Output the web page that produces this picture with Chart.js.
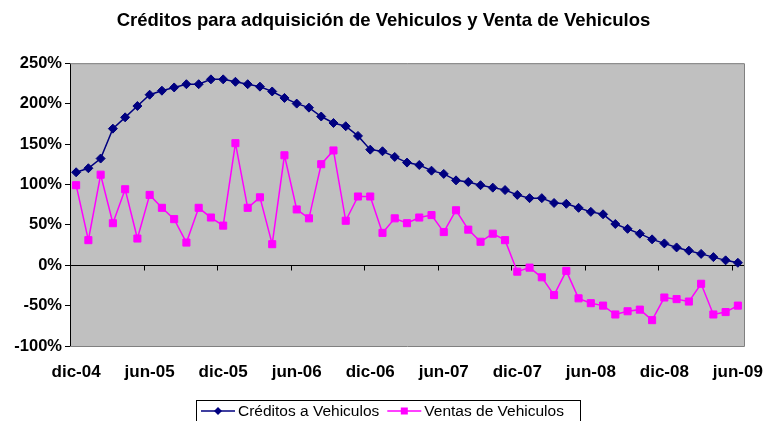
<!DOCTYPE html>
<html lang="es">
<head>
<meta charset="UTF-8">
<title>Créditos y Venta de Vehiculos</title>
<script src="https://cdn.jsdelivr.net/npm/chart.js@4.4.0/dist/chart.umd.min.js"></script>
<style>
  html, body { margin: 0; padding: 0; background: #fff; }
  #wrap { width: 767px; height: 421px; }
</style>
</head>
<body>
<div id="wrap"><canvas id="chart" width="767" height="421"></canvas></div>
<script>
const months = [
  'dic-04',
  'ene-05','feb-05','mar-05','abr-05','may-05','jun-05','jul-05','ago-05','sep-05','oct-05','nov-05','dic-05',
  'ene-06','feb-06','mar-06','abr-06','may-06','jun-06','jul-06','ago-06','sep-06','oct-06','nov-06','dic-06',
  'ene-07','feb-07','mar-07','abr-07','may-07','jun-07','jul-07','ago-07','sep-07','oct-07','nov-07','dic-07',
  'ene-08','feb-08','mar-08','abr-08','may-08','jun-08','jul-08','ago-08','sep-08','oct-08','nov-08','dic-08',
  'ene-09','feb-09','mar-09','abr-09','may-09','jun-09'
];

// variacion anual, en %
const creditos = [
  115, 120, 132, 169, 183, 197, 211, 216, 220, 224, 224, 230, 230,
  227, 224, 221, 215, 207, 200, 195, 184, 176, 172, 160, 143,
  141, 134, 127, 124, 117, 113, 105, 103, 99, 96, 93, 87,
  83, 83, 77, 76, 71, 66, 63, 51, 45, 39, 32, 27,
  22, 18, 14, 10, 6, 3
];

const ventas = [
  99, 31, 112, 52, 94, 33, 87, 71, 57, 28, 71, 59, 49,
  151, 71, 84, 26, 136, 69, 58, 125, 142, 55, 85, 85,
  40, 58, 52, 59, 62, 41, 68, 44, 29, 39, 31, -8,
  -3, -15, -37, -7, -41, -47, -50, -61, -57, -55, -68, -40,
  -42, -45, -23, -61, -58, -50
];

const yMin = -100, yMax = 250, yStep = 50;
const labelEvery = 6;

const FONT = "'Liberation Sans', Arial, sans-serif";

const frame = {
  id: 'frame',
  beforeDraw(chart) {
    const { ctx, chartArea: a } = chart;
    ctx.save();
    ctx.fillStyle = '#c0c0c0';
    ctx.fillRect(a.left, a.top, a.right - a.left, a.bottom - a.top);
    ctx.restore();
  },
  beforeDatasetsDraw(chart) {
    const { ctx, chartArea: a, scales } = chart;
    const x = scales.x, y = scales.y;
    ctx.save();
    // borde gris arriba / derecha / abajo
    ctx.strokeStyle = '#808080';
    ctx.lineWidth = 1;
    ctx.beginPath();
    ctx.moveTo(a.left, a.top + 0.5);
    ctx.lineTo(a.right + 0.5, a.top + 0.5);
    ctx.lineTo(a.right + 0.5, a.bottom + 0.5);
    ctx.lineTo(a.left, a.bottom + 0.5);
    ctx.stroke();
    // eje de categorias cruzando en 0%
    const y0 = Math.round(y.getPixelForValue(0)) + 0.5;
    ctx.strokeStyle = '#000';
    ctx.beginPath();
    ctx.moveTo(a.left, y0);
    ctx.lineTo(a.right, y0);
    const half = (x.getPixelForValue(1) - x.getPixelForValue(0)) / 2;
    for (let i = labelEvery; i < months.length; i += labelEvery) {
      const px = Math.round(x.getPixelForValue(i) - half) + 0.5;
      ctx.moveTo(px, y0);
      ctx.lineTo(px, y0 + 5);
    }
    ctx.stroke();
    ctx.restore();
  },
  afterDraw(chart) {
    const { ctx } = chart;
    const ds = chart.data.datasets;
    const left = 196, top = 400, right = 580, bottom = 424;
    const cy = 411;
    ctx.save();
    ctx.fillStyle = '#fff';
    ctx.fillRect(left, top, right - left, bottom - top);
    ctx.strokeStyle = '#000';
    ctx.lineWidth = 1;
    ctx.strokeRect(left + 0.5, top + 0.5, right - left, bottom - top);
    ctx.font = '15.5px ' + FONT;
    ctx.textBaseline = 'middle';
    let xp = left + 5;
    ds.forEach((d) => {
      ctx.strokeStyle = d.borderColor;
      ctx.lineWidth = 1.5;
      ctx.beginPath();
      ctx.moveTo(xp, cy);
      ctx.lineTo(xp + 34, cy);
      ctx.stroke();
      ctx.fillStyle = d.pointBackgroundColor;
      ctx.beginPath();
      const mx = xp + 17;
      if (d.pointStyle === 'rectRot') {
        ctx.moveTo(mx, cy - 4); ctx.lineTo(mx + 4, cy); ctx.lineTo(mx, cy + 4); ctx.lineTo(mx - 4, cy);
        ctx.closePath();
      } else {
        ctx.rect(mx - 3.5, cy - 3.5, 7, 7);
      }
      ctx.fill();
      ctx.fillStyle = '#000';
      ctx.fillText(d.label, xp + 37, cy + 1);
      xp += 37 + ctx.measureText(d.label).width + 8;
    });
    ctx.restore();
  }
};

new Chart(document.getElementById('chart'), {
  type: 'line',
  data: {
    labels: months,
    datasets: [
      {
        label: 'Créditos a Vehiculos',
        data: creditos,
        borderColor: '#000080',
        backgroundColor: '#000080',
        pointBackgroundColor: '#000080',
        pointBorderColor: '#000080',
        pointStyle: 'rectRot',
        pointRadius: 4.5,
        pointBorderWidth: 1,
        borderWidth: 1.5,
        tension: 0
      },
      {
        label: 'Ventas de Vehiculos',
        data: ventas,
        borderColor: '#ff00ff',
        backgroundColor: '#ff00ff',
        pointBackgroundColor: '#ff00ff',
        pointBorderColor: '#ff00ff',
        pointStyle: 'rect',
        pointRadius: 5,
        pointBorderWidth: 1,
        borderWidth: 1.5,
        tension: 0
      }
    ]
  },
  options: {
    responsive: false,
    animation: false,
    devicePixelRatio: 1,
    layout: { padding: 0 },
    plugins: {
      legend: { display: false },
      tooltip: { enabled: false },
      title: {
        display: true,
        text: 'Créditos para adquisición de Vehiculos y Venta de Vehiculos',
        color: '#000',
        font: { family: FONT, size: 18.5, weight: 'bold', lineHeight: 1.2 },
        padding: { top: 10, bottom: 31 }
      }
    },
    scales: {
      x: {
        offset: true,
        grid: { display: false, drawTicks: false },
        border: { display: false },
        ticks: {
          autoSkip: false,
          maxRotation: 0,
          padding: 16,
          color: '#000',
          font: { family: FONT, size: 17, weight: 'bold' },
          callback: (v, i) => (i % labelEvery === 0 ? months[i] : '')
        },
        afterFit: (s) => { s.height = 75; s.paddingLeft = 0; s.paddingRight = 23; }
      },
      y: {
        min: yMin,
        max: yMax,
        grid: { drawOnChartArea: false, drawTicks: true, tickLength: 5, color: '#000' },
        border: { display: true, color: '#000', width: 1 },
        ticks: {
          stepSize: yStep,
          padding: 3,
          color: '#000',
          font: { family: FONT, size: 16.5, weight: 'bold' },
          callback: (v) => v + '%'
        },
        afterFit: (s) => { s.width = 70; s.paddingTop = 0; s.paddingBottom = 0; }
      }
    }
  },
  plugins: [frame]
});
</script>
</body>
</html>
